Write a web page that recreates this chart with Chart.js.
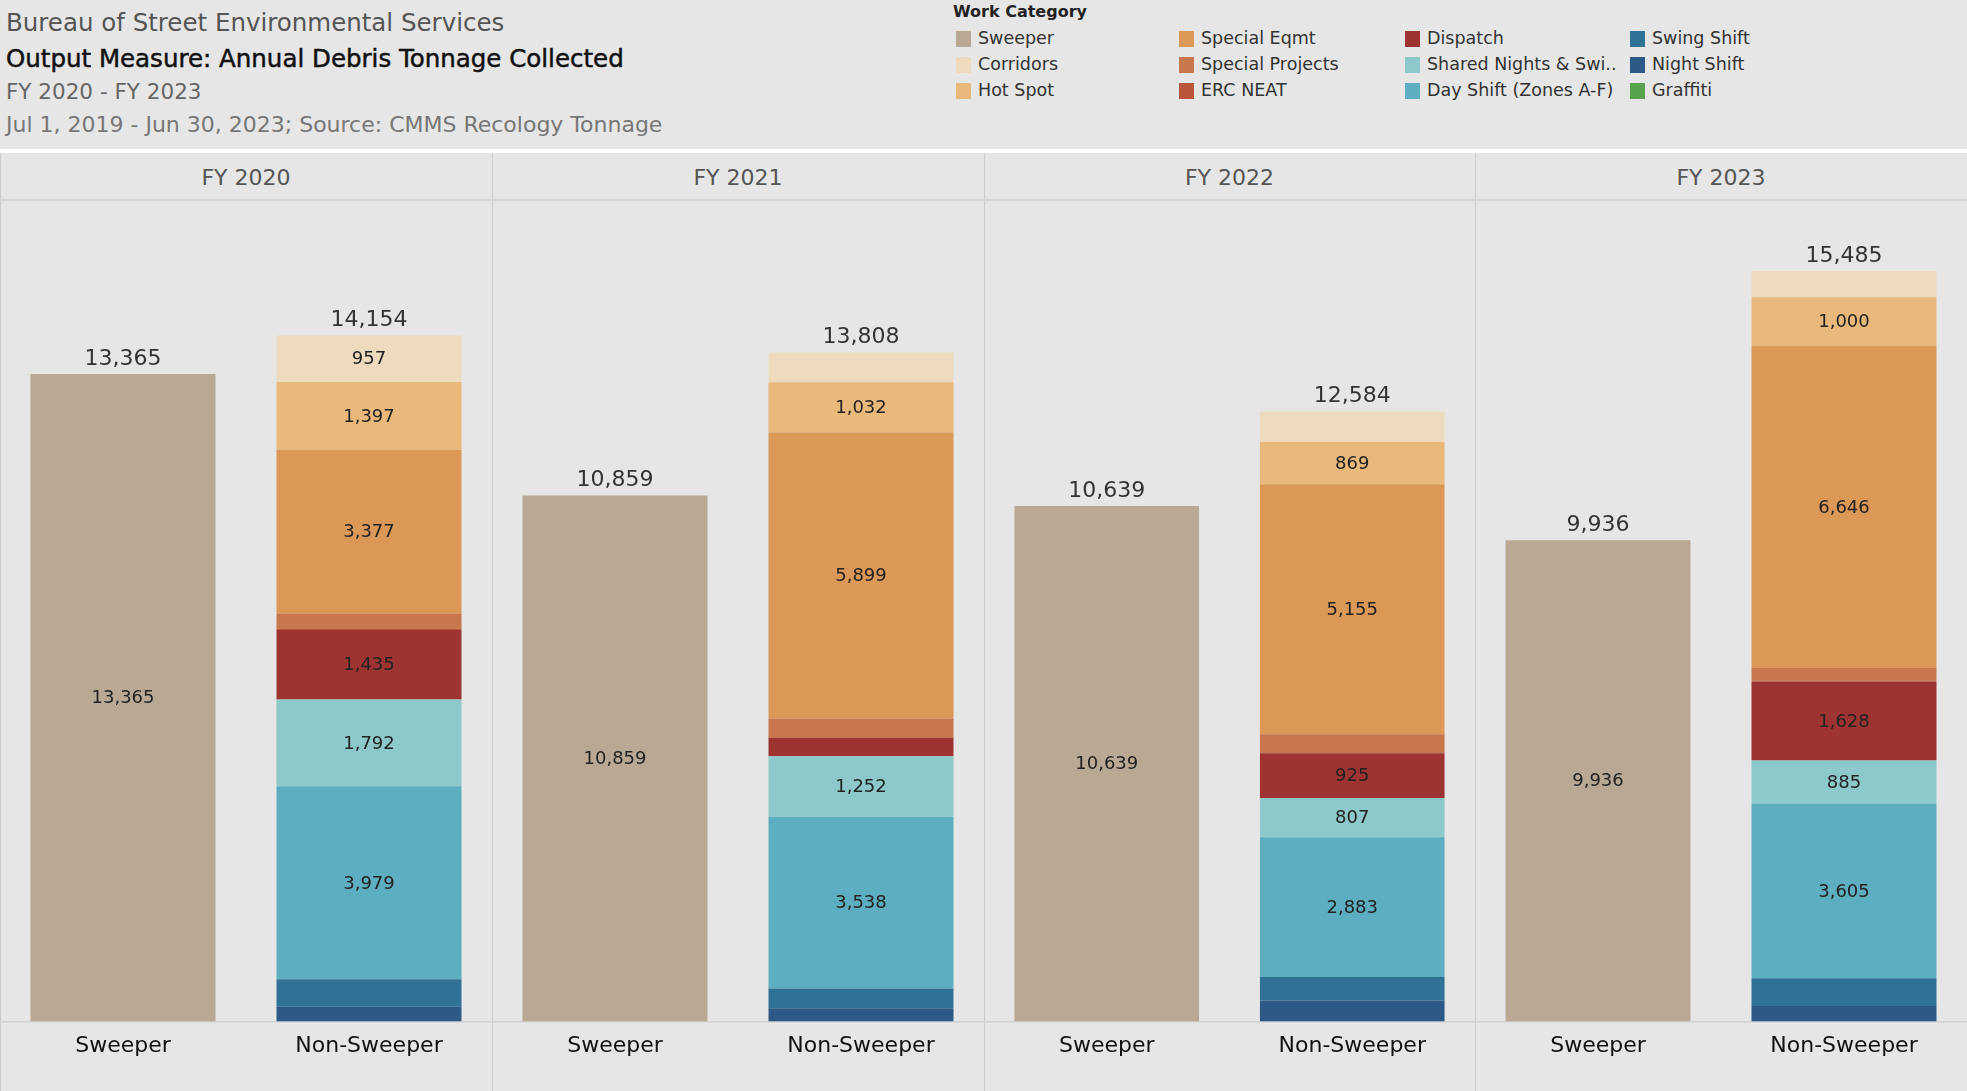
<!DOCTYPE html>
<html>
<head>
<meta charset="utf-8">
<script src="https://cdn.jsdelivr.net/npm/chart.js@4.4.0/dist/chart.umd.min.js"></script>
<style>
  body { margin: 0; background: #e6e6e6; width: 1967px; height: 1091px; overflow: hidden; position: relative; font-family: "DejaVu Sans", sans-serif; }
  .t { position: absolute; left: 6px; white-space: nowrap; }
  #t1 { top: 8px; font-size: 24.5px; line-height: 29px; color: #555; }
  #t2 { top: 44px; font-size: 24.5px; line-height: 29px; color: #111; -webkit-text-stroke: 0.5px #111; }
  #t3 { top: 79px; font-size: 21.5px; line-height: 26px; color: #666; }
  #t4 { top: 112px; font-size: 22px; line-height: 26px; color: #777; }
  #legendTitle { position: absolute; left: 953px; top: 2px; font-size: 16px; font-weight: bold; color: #222; }
  .item { position: absolute; font-size: 17.5px; color: #333; white-space: nowrap; }
  .sw { position: absolute; width: 15px; height: 16px; }
  #sep { position: absolute; left: 0; top: 149px; width: 1967px; height: 4px; background: #fff; }
  #hline { position: absolute; left: 0; top: 199px; width: 1967px; height: 2px; background: #d6d6d6; }
  .vline { position: absolute; top: 153px; width: 1px; height: 938px; background: #cdcdcd; }
  .phead { position: absolute; top: 155px; height: 46px; line-height: 46px; text-align: center; font-size: 22px; color: #555; }
  canvas { position: absolute; top: 201px; }
</style>
</head>
<body>
<div class="t" id="t1">Bureau of Street Environmental Services</div>
<div class="t" id="t2">Output Measure: Annual Debris Tonnage Collected</div>
<div class="t" id="t3">FY 2020 - FY 2023</div>
<div class="t" id="t4">Jul 1, 2019 - Jun 30, 2023; Source: CMMS Recology Tonnage</div>
<div id="legendTitle">Work Category</div>
<div id="legend"></div>
<div id="sep"></div>
<div id="panels"></div>
<div id="hline"></div>
<script>
const years = ["FY 2020", "FY 2021", "FY 2022", "FY 2023"];
const groups = ["Sweeper", "Non-Sweeper"];
const categories = ["Sweeper", "Corridors", "Hot Spot", "Special Eqmt", "Special Projects", "ERC NEAT",
    "Dispatch", "Shared Nights & Swi..", "Day Shift (Zones A-F)", "Swing Shift", "Night Shift", "Graffiti"];
const colors = ["#b9a994", "#eedabc", "#e9b97b", "#db9857", "#c8764b", "#ba553b",
    "#9d3431", "#8dc8cb", "#5daec1", "#2f7296", "#2c5986", "#57a24d"];

// tons per fiscal year
const sweeper = [13365, 10859, 10639, 9936];
const corridors = [957, 618, 624, 539];
const hotSpot = [1397, 1032, 869, 1000];
const specialEqmt = [3377, 5899, 5155, 6646];
const specialProjects = [317, 385, 372, 262];
const ercNeat = [20, 20, 20, 20];
const dispatch = [1435, 372, 925, 1628];
const sharedNights = [1792, 1252, 807, 885];
const dayShift = [3979, 3538, 2883, 3605];
const swingShift = [565, 410, 486, 570];
const nightShift = [315, 282, 443, 330];
const graffiti = [0, 0, 0, 0];

const series = [sweeper, corridors, hotSpot, specialEqmt, specialProjects, ercNeat,
    dispatch, sharedNights, dayShift, swingShift, nightShift, graffiti];

const yMax = 16930;
const gridStep = 2000;

// legend, 3 rows x 4 columns
const legend = document.getElementById("legend");
const colX = [956, 1179, 1405, 1630];
const rowY = [39, 65, 91];
categories.forEach((name, i) => {
    const c = Math.floor(i / 3), r = i % 3;
    const sw = document.createElement("div");
    sw.className = "sw";
    sw.style.left = colX[c] + "px";
    sw.style.top = (rowY[r] - 8) + "px";
    sw.style.background = colors[i];
    legend.appendChild(sw);
    const it = document.createElement("div");
    it.className = "item";
    it.style.left = (colX[c] + 22) + "px";
    it.style.top = (rowY[r] - 11) + "px";
    it.textContent = name;
    legend.appendChild(it);
});

const fmt = v => v.toLocaleString("en-US");

const valueLabels = {
    id: "valueLabels",
    afterDatasetsDraw(chart) {
        const ctx = chart.ctx;
        const y = chart.scales.y, x = chart.scales.x;
        ctx.save();
        ctx.textAlign = "center";
        ctx.textBaseline = "middle";
        ctx.fillStyle = "#222";
        ctx.font = "18px 'DejaVu Sans'";
        chart.data.datasets.forEach((ds, di) => {
            chart.getDatasetMeta(di).data.forEach((el, i) => {
                const v = ds.data[i];
                if (v == null) return;
                if (Math.abs(el.base - el.y) < 34) return;
                ctx.fillText(fmt(v), el.x, (el.y + el.base) / 2 + 1);
            });
        });
        // totals
        ctx.font = "22px 'DejaVu Sans'";
        ctx.fillStyle = "#333";
        ctx.textBaseline = "bottom";
        groups.forEach((g, i) => {
            let total = 0;
            chart.data.datasets.forEach(ds => { total += ds.data[i] || 0; });
            ctx.fillText(fmt(total), x.getPixelForValue(i), y.getPixelForValue(total) - 4);
        });
        ctx.restore();
    }
};

const panels = document.getElementById("panels");
years.forEach((yr, p) => {
    const left = Math.round(p * 1967 / 4);
    const right = Math.round((p + 1) * 1967 / 4);
    const w = right - left;

    const head = document.createElement("div");
    head.className = "phead";
    head.style.left = left + "px";
    head.style.width = w + "px";
    head.textContent = yr;
    panels.appendChild(head);

    const vl = document.createElement("div");
    vl.className = "vline";
    vl.style.left = left + "px";
    panels.appendChild(vl);

    const canvas = document.createElement("canvas");
    canvas.width = w;
    canvas.height = 890;
    canvas.style.left = left + "px";
    panels.appendChild(canvas);

    // bottom of stack first
    const datasets = [];
    for (let k = series.length - 1; k >= 0; k--) {
        const v = series[k][p];
        datasets.push({
            label: categories[k],
            data: k === 0 ? [v, null] : [null, v],
            backgroundColor: colors[k],
            borderWidth: 0,
            barPercentage: 0.752,
            categoryPercentage: 1
        });
    }

    new Chart(canvas, {
        type: "bar",
        data: { labels: groups, datasets: datasets },
        options: {
            responsive: false,
            animation: false,
            events: [],
            layout: { padding: 0 },
            plugins: { legend: { display: false }, tooltip: { enabled: false } },
            scales: {
                x: {
                    stacked: true,
                    afterFit: s => { s.height = 69; },
                    grid: { display: false, drawTicks: false },
                    border: { display: true, color: "#d0d0d0", width: 1.5 },
                    ticks: { color: "#111", padding: 11, font: { family: "DejaVu Sans", size: 22 } }
                },
                y: {
                    stacked: true,
                    min: 0,
                    max: yMax,
                    afterFit: s => { s.width = 0; },
                    ticks: { display: false, stepSize: gridStep },
                    border: { display: false },
                    grid: {
                        drawTicks: false,
                        lineWidth: 1.5,
                        color: c => (c.tick && c.tick.value % gridStep === 0 && c.tick.value > 0) ? "#f1f1f1" : "rgba(0,0,0,0)"
                    }
                }
            }
        },
        plugins: [valueLabels]
    });
});
</script>
</body>
</html>
